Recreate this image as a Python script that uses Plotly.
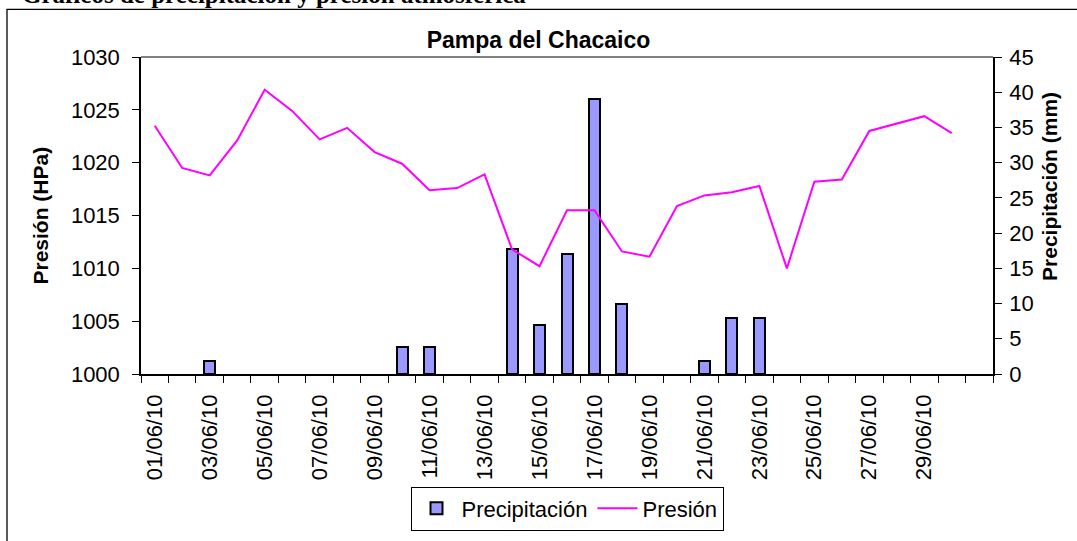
import plotly.graph_objects as go

# Datos diarios, junio 2010 - Pampa del Chacaico
fechas = ["01/06/10", "02/06/10", "03/06/10", "04/06/10", "05/06/10",
          "06/06/10", "07/06/10", "08/06/10", "09/06/10", "10/06/10",
          "11/06/10", "12/06/10", "13/06/10", "14/06/10", "15/06/10",
          "16/06/10", "17/06/10", "18/06/10", "19/06/10", "20/06/10",
          "21/06/10", "22/06/10", "23/06/10", "24/06/10", "25/06/10",
          "26/06/10", "27/06/10", "28/06/10", "29/06/10", "30/06/10"]

# Precipitación (mm)
precipitacion = [0, 0, 1.9, 0, 0, 0, 0, 0, 0, 3.9,
                 3.9, 0, 0, 17.8, 7.0, 17.0, 39.0, 9.9, 0, 0,
                 1.9, 7.9, 7.9, 0, 0, 0, 0, 0, 0, 0]

# Presión (HPa)
presion = [1023.5, 1019.5, 1018.8, 1022.1, 1026.9, 1024.9, 1022.2, 1023.3, 1021.0, 1019.9,
           1017.4, 1017.6, 1018.9, 1011.8, 1010.2, 1015.5, 1015.5, 1011.6, 1011.1, 1015.9,
           1016.9, 1017.2, 1017.8, 1010.0, 1018.2, 1018.4, 1023.0, 1023.7, 1024.4, 1022.8]

x = list(range(len(fechas)))
# los dias sin lluvia no llevan barra
barras = [p if p > 0 else None for p in precipitacion]

fig = go.Figure()

fig.add_trace(go.Bar(
    x=x, y=barras, name="Precipitación", width=0.4,
    marker=dict(color="#9999FF", line=dict(color="black", width=2)),
    yaxis="y"))

fig.add_trace(go.Scatter(
    x=x, y=presion, name="Presión", mode="lines",
    line=dict(color="#FF00FF", width=2),
    yaxis="y2"))

fuente = "Arial, Liberation Sans, sans-serif"

fig.update_layout(
    width=1077, height=541,
    margin=dict(l=141, r=84, t=57, b=167, autoexpand=False),
    paper_bgcolor="white", plot_bgcolor="white",
    font=dict(family=fuente, size=22, color="black"),
    showlegend=True,
    bargap=0,
    xaxis=dict(
        range=[-0.5, len(fechas) + 0.5],
        tickmode="array", tickvals=x[::2], ticktext=fechas[::2],
        tickangle=-90, ticks="", ticklabelstandoff=10,
        showline=True, linecolor="black", linewidth=1.5,
        showgrid=False, zeroline=False, automargin=False,
        minor=dict(tickmode="linear", tick0=-0.5, dtick=1, ticks="outside",
                   ticklen=7, tickcolor="black", showgrid=False),
    ),
    yaxis=dict(
        side="right", range=[0, 45], dtick=5,
        ticks="outside", ticklen=7, tickcolor="black", ticklabelstandoff=3,
        showline=True, linecolor="black", linewidth=1.5,
        showgrid=False, zeroline=False, automargin=False,
    ),
    yaxis2=dict(
        side="left", overlaying="y", range=[1000, 1030], dtick=5,
        ticks="outside", ticklen=7, tickcolor="black", ticklabelstandoff=8,
        showline=True, linecolor="black", linewidth=1.5,
        showgrid=False, zeroline=False, automargin=False,
    ),
    legend=dict(
        orientation="h", x=0.5, xanchor="center", y=-0.355, yanchor="top",
        bordercolor="black", borderwidth=1, bgcolor="white",
        font=dict(size=22), itemwidth=40,
    ),
    title=dict(text="<b>Pampa del Chacaico</b>", x=0.5, xanchor="center",
               y=1 - 40 / 541, yanchor="middle", font=dict(size=23)),
)

# titulos de los ejes
fig.add_annotation(text="<b>Presión (HPa)</b>", textangle=-90,
                   xref="paper", yref="paper", x=(40 - 141) / 852, y=0.5,
                   xanchor="center", yanchor="middle", showarrow=False,
                   font=dict(size=21))
fig.add_annotation(text="<b>Precipitación (mm)</b>", textangle=-90,
                   xref="paper", yref="paper", x=(1050 - 141) / 852, y=0.59,
                   xanchor="center", yanchor="middle", showarrow=False,
                   font=dict(size=21))

# titulo de la pagina (cortado arriba)
fig.add_annotation(text="<b>Gráficos de precipitación y presión atmosférica</b>",
                   xref="paper", yref="paper", x=(20 - 141) / 852, y=(374.3 - 10) / 317.6,
                   xanchor="left", yanchor="bottom", showarrow=False,
                   font=dict(family="Liberation Serif, Times New Roman, serif", size=25))

# borde superior gris del area de trazado y marco del grafico
fig.add_shape(type="line", xref="paper", yref="paper", x0=0, x1=1, y0=1, y1=1,
              line=dict(color="#808080", width=2))
fig.add_shape(type="rect", xref="paper", yref="paper",
              x0=(7 - 141) / 852, x1=(1085 - 141) / 852,
              y0=(374.3 - 560) / 317.6, y1=(374.3 - 9) / 317.6,
              line=dict(color="black", width=1.3), layer="below")

fig.write_html("out.html", config={"displayModeBar": False},
               post_script="document.body.style.margin='0';")
